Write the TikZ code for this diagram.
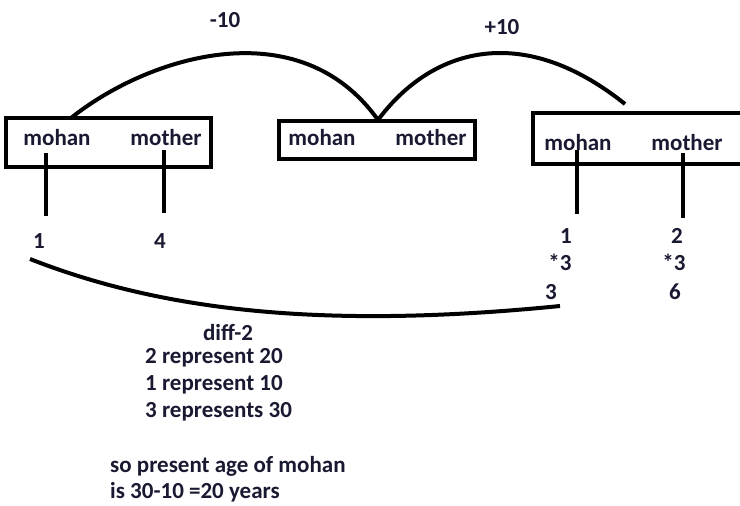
\documentclass[tikz,border=0pt]{standalone}
\usepackage{fontspec}
\setmainfont{Carlito}
\definecolor{ink}{RGB}{25,25,50}
\begin{document}
\begin{tikzpicture}[x=1pt,y=-1pt,
    lbl/.style={font=\fontsize{23}{27}\selectfont\bfseries, text=ink, inner sep=0pt},
    box/.style={draw, line width=4pt, inner sep=0pt},
    curve/.style={line width=4pt},
    stem/.style={line width=3.5pt}]
    \useasboundingbox (0,0) rectangle (740,506);
    \clip (0,0) rectangle (740,506);
    \node[box, minimum width=205pt, minimum height=49pt] (boxA) at (108.5,142.5) {};
    \node[box, minimum width=196pt, minimum height=38pt] (boxB) at (377,140) {};
    \node[box, minimum width=212pt, minimum height=51pt] (boxC) at (639,138.5) {};
    \node[lbl] (mohanA) at (57,138) {mohan};
    \node[lbl] (motherA) at (166,138) {mother};
    \node[lbl] (mohanB) at (322,138) {mohan};
    \node[lbl] (motherB) at (431,138) {mother};
    \node[lbl] (mohanC) at (578,143) {mohan};
    \node[lbl] (motherC) at (687,143) {mother};
    \node[lbl] (minus) at (225,20) {-10};
    \node[lbl] (plus) at (502,27) {+10};
    \node[lbl] (oneA) at (39,241) {1};
    \node[lbl] (fourA) at (160,241) {4};
    \node[lbl] (oneC) at (566,236) {1};
    \node[lbl] (twoC) at (677,236) {2};
    \node[lbl] (timesA) at (560,262) {*3};
    \node[lbl] (timesB) at (674,262) {*3};
    \node[lbl] (threeC) at (551,292) {3};
    \node[lbl] (sixC) at (675,292) {6};
    \node[lbl] (diff) at (228,333) {diff-2};
    \node[lbl, anchor=west] (rowA) at (145,358) {2 represent 20};
    \node[lbl, anchor=west] (rowB) at (145,385) {1 represent 10};
    \node[lbl, anchor=west] (rowC) at (145,412) {3 represents 30};
    \node[lbl, anchor=west] (ansA) at (110,466) {so present age of mohan};
    \node[lbl, anchor=west] (ansB) at (110,492) {is 30-10 =20 years};
    \coordinate (stemA) at (46,216);
    \coordinate (stemB) at (164,213);
    \coordinate (stemC) at (577,214);
    \coordinate (stemD) at (683,218);
    \coordinate (arcA) at (71,118);
    \coordinate (arcB) at (378,120);
    \coordinate (arcC) at (625,104);
    \coordinate (lowA) at (30,259);
    \coordinate (lowB) at (560,306);
    \draw[stem] (46,153) -- (stemA);
    \draw[stem] (164,150) -- (stemB);
    \draw[stem] (577,150) -- (stemC);
    \draw[stem] (683,153) -- (stemD);
    \draw[curve] (arcA) .. controls (150,55) and (300,10) .. (arcB);
    \draw[curve] (arcB) .. controls (430,50) and (520,20) .. (arcC);
    \draw[curve] (lowA) .. controls (160,310) and (320,330) .. (lowB);
\end{tikzpicture}
\end{document}
